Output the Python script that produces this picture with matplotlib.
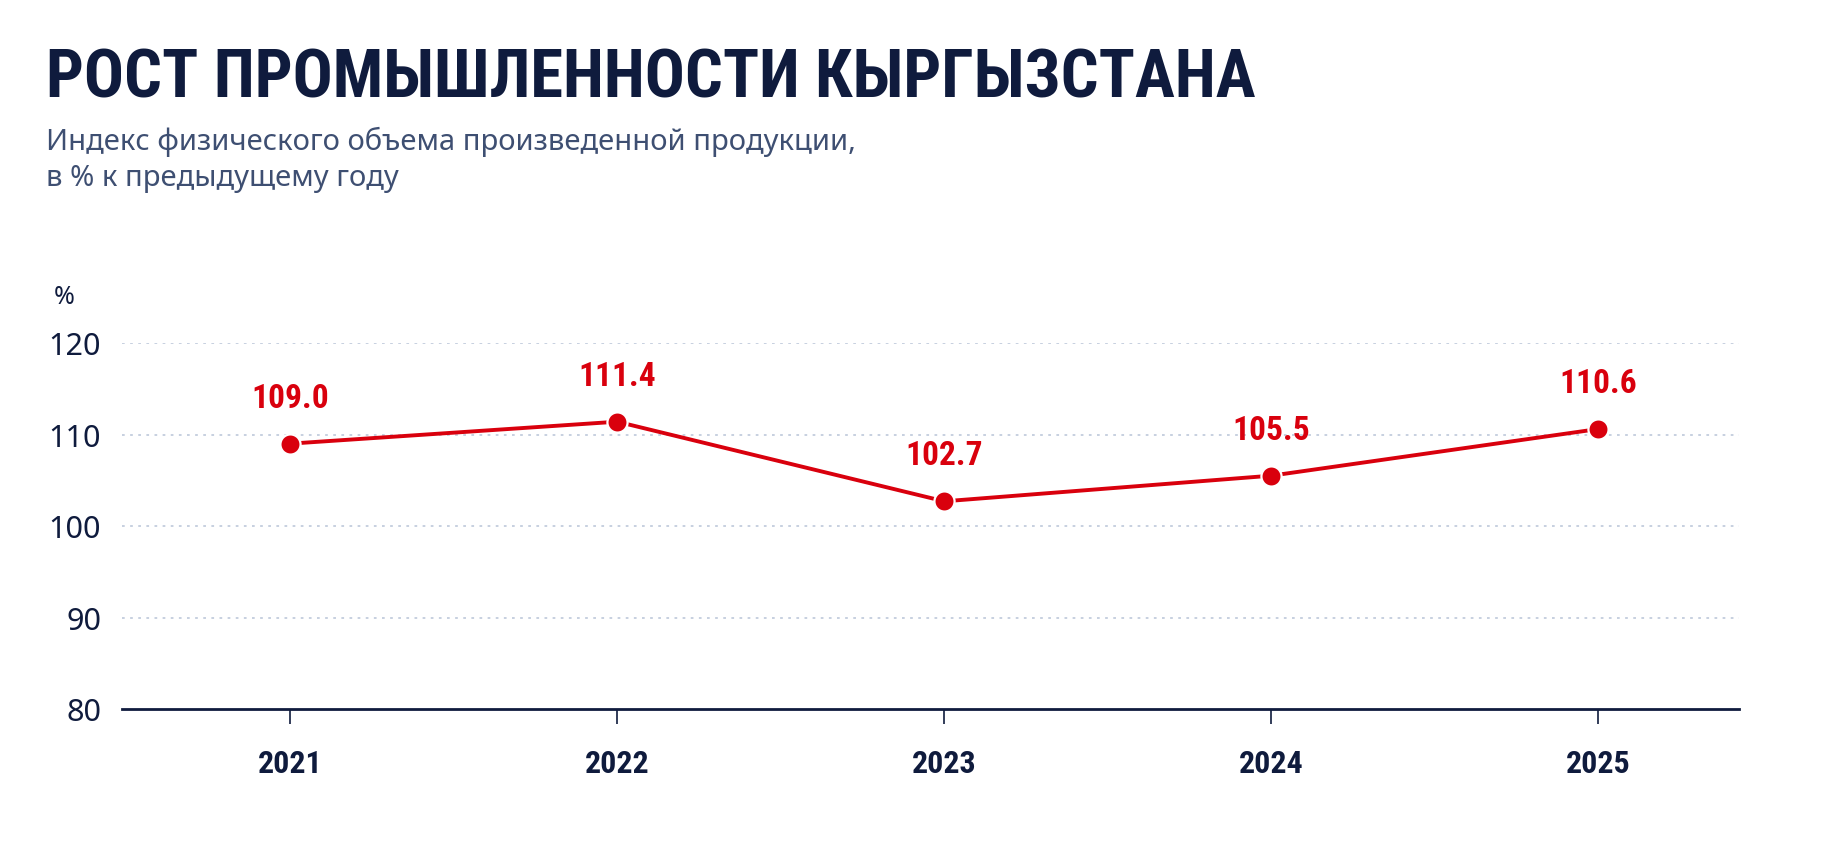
import matplotlib
matplotlib.use("Agg")
import matplotlib.pyplot as plt
from matplotlib import font_manager as fm

years = ["2021", "2022", "2023", "2024", "2025"]
values = [109.0, 111.4, 102.7, 105.5, 110.6]
y_ticks = [80, 90, 100, 110, 120]

title = "РОСТ ПРОМЫШЛЕННОСТИ КЫРГЫЗСТАНА"
subtitle = "Индекс физического объема произведенной продукции,\nв % к предыдущему году"

navy = "#0f1b3d"
slate = "#3e4f72"
red = "#d9000d"
grid_c = "#c3cddd"

names = {f.name for f in fm.fontManager.ttflist}
cond = [n for n in ["Roboto Condensed", "Liberation Sans Narrow", "DejaVu Sans"] if n in names]
reg = [n for n in ["Noto Sans", "Open Sans", "DejaVu Sans"] if n in names]

fig = plt.figure(figsize=(18.24, 8.62), dpi=100)
fig.patch.set_facecolor("white")
ax = fig.add_axes([122/1824, 152/862, (1739-122)/1824, 366/862])

x = list(range(len(years)))
ax.plot(x, values, color=red, lw=2.8, marker="o", ms=14.5, mfc=red, mec="white", mew=1.6, zorder=3, clip_on=False)
for xi, v in zip(x, values):
    ax.annotate(f"{v:.1f}", (xi, v), xytext=(0, 33), textcoords="offset points",
                ha="center", va="center", color=red, fontsize=24, fontweight="bold", family=cond)

ax.set_xlim(-0.514, 4.43)
ax.set_ylim(80, 120)
ax.set_yticks(y_ticks)
ax.set_yticklabels([str(t) for t in y_ticks], family=reg, fontsize=22, color=navy)
ax.set_xticks(x)
ax.set_xticklabels(years, family=cond, fontsize=23, fontweight="bold", color=navy)
ax.tick_params(axis="y", length=0, pad=15)
ax.tick_params(axis="x", length=11, width=1.2, color=navy, pad=17, direction="out")

for t in [90, 100, 110, 120]:
    ax.axhline(t, color=grid_c, lw=1.3, ls=(0, (1.5, 3)), zorder=1)

for s in ["top", "right", "left"]:
    ax.spines[s].set_visible(False)
ax.spines["bottom"].set_color(navy)
ax.spines["bottom"].set_linewidth(2.0)

fig.text(46/1824, 1 - 79/862, title, ha="left", va="center", color=navy,
         fontsize=48, fontweight="bold", family=cond)
fig.text(46/1824, 1 - 160/862, subtitle, ha="left", va="center", color=slate,
         fontsize=21, family=reg, linespacing=1.3)
fig.text(64/1824, 1 - 297/862, "%", ha="center", va="center", color=navy,
         fontsize=18, family=reg)

fig.savefig("out.png", dpi=100, facecolor="white")
